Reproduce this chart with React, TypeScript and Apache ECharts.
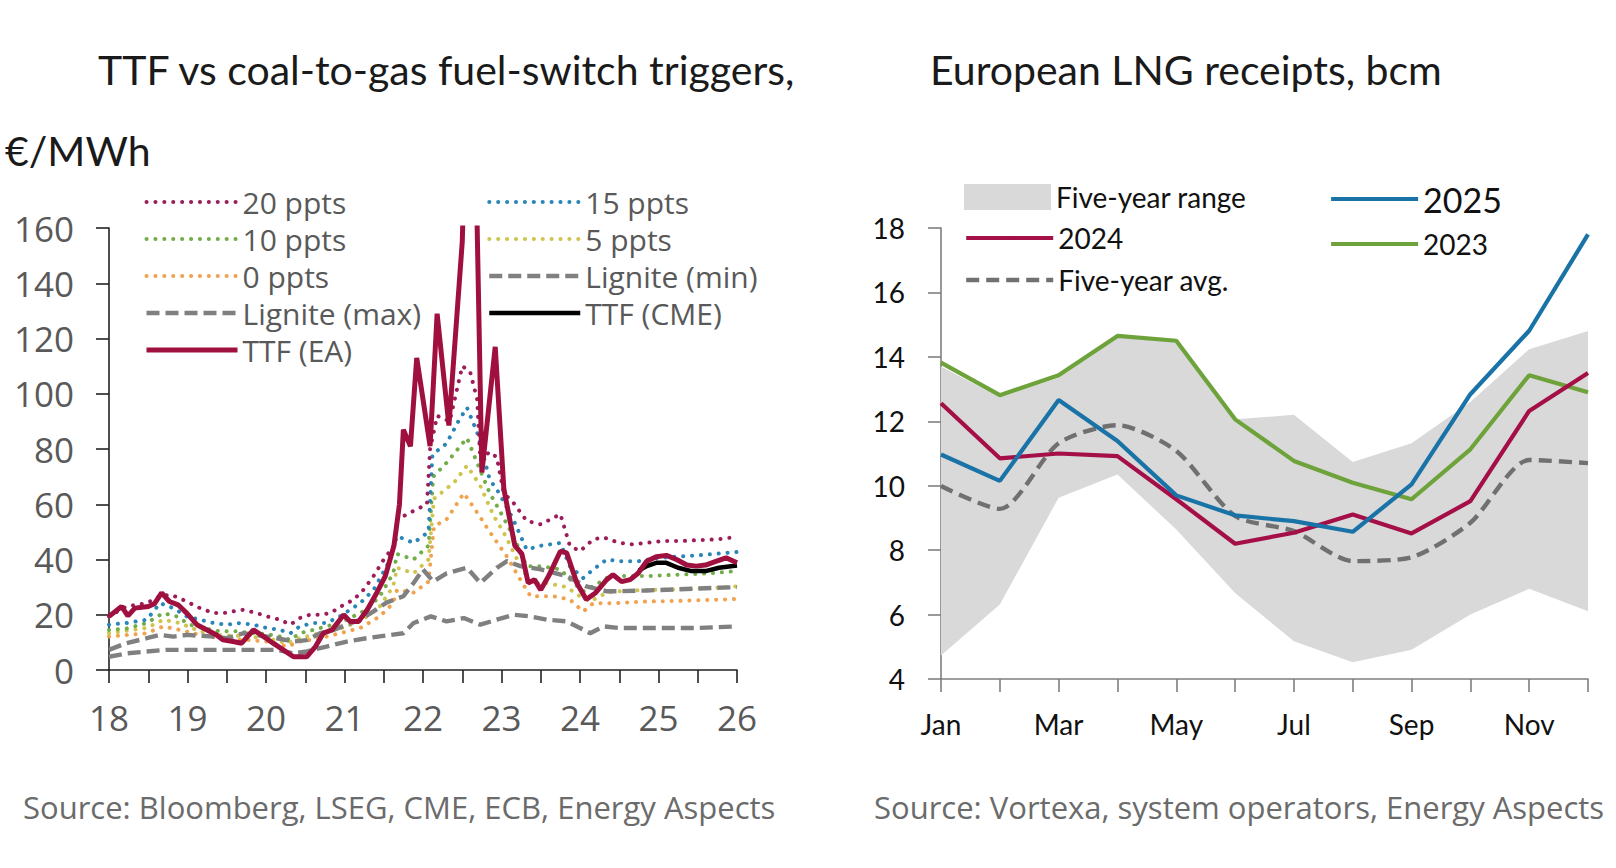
import React, { useEffect, useRef } from "react";
import * as echarts from "echarts";

type P = [number, number];

// ---------- Left chart: TTF vs coal-to-gas fuel-switch triggers (x = year 18..26) ----------
const ttfEA: P[] = [
  [18.0, 19.4], [18.16, 23], [18.24, 19.6], [18.33, 22.4], [18.5, 23], [18.58, 24], [18.67, 27.9],
  [18.77, 24.8], [18.88, 23.6], [18.99, 20.6], [19.12, 16.4], [19.25, 14.5], [19.37, 12.7],
  [19.45, 10.9], [19.58, 10.3], [19.69, 9.7], [19.84, 14.5], [19.97, 12.1], [20.09, 9.7],
  [20.22, 7.3], [20.35, 4.8], [20.52, 4.8], [20.63, 8.5], [20.73, 13.3], [20.84, 14.5],
  [20.99, 20], [21.07, 17.6], [21.18, 17.6], [21.29, 21.8], [21.41, 27.9], [21.52, 34],
  [21.63, 45], [21.7, 60], [21.75, 87], [21.84, 81], [21.92, 113], [22.09, 81], [22.18, 129],
  [22.33, 88.5], [22.5, 155], [22.58, 235], [22.67, 190], [22.75, 71.5], [22.92, 117],
  [23.03, 65.5], [23.17, 45], [23.26, 42], [23.34, 31.5], [23.42, 32.7], [23.5, 29], [23.6, 34],
  [23.75, 43], [23.83, 42.4], [23.96, 31.5], [24.08, 25.5], [24.2, 28], [24.34, 32.7],
  [24.42, 34.5], [24.53, 32], [24.64, 32.7], [24.74, 35], [24.85, 39.4], [24.97, 41],
  [25.1, 41.5], [25.23, 40], [25.36, 38], [25.48, 37.6], [25.6, 38], [25.74, 39.4],
  [25.86, 40.6], [26.0, 38.8],
];

const ttfCME: P[] = [
  [24.75, 36], [24.85, 37.6], [24.97, 38.8], [25.1, 38.8], [25.25, 37], [25.42, 35.8],
  [25.6, 35.8], [25.77, 37], [26.0, 37.8],
];

const ppts20: P[] = [
  [18.0, 19.4], [18.22, 23], [18.48, 24.2], [18.65, 26.7], [18.78, 27.3], [18.9, 26],
  [19.03, 24.2], [19.16, 22.4], [19.33, 20.6], [19.46, 20.6], [19.58, 21.2], [19.71, 21.8],
  [19.88, 20.6], [20.01, 19.4], [20.18, 18.2], [20.31, 16.4], [20.43, 18.8], [20.56, 20],
  [20.69, 20], [20.82, 20.6], [20.99, 23.6], [21.12, 25.5], [21.24, 29], [21.37, 34],
  [21.5, 40], [21.63, 45], [21.67, 54.5], [21.88, 57.6], [22.05, 60], [22.09, 80], [22.18, 92],
  [22.34, 90], [22.5, 110], [22.6, 108], [22.69, 98], [22.73, 76], [22.85, 79], [22.94, 77],
  [23.03, 64], [23.15, 60.6], [23.32, 54], [23.5, 52.7], [23.62, 54.5], [23.75, 56.4],
  [23.87, 45], [24.0, 43], [24.17, 47.3], [24.3, 48], [24.5, 46], [24.66, 45.5], [24.85, 46],
  [25.06, 46.7], [25.3, 46.7], [25.5, 47], [25.75, 47.3], [25.95, 48],
];

const ppts15: P[] = [
  [18.0, 16.4], [18.22, 17], [18.48, 18.2], [18.65, 24.2], [18.82, 22.4], [18.99, 19.4],
  [19.16, 18.2], [19.33, 17], [19.5, 16.4], [19.67, 17], [19.84, 16.4], [20.01, 15.2],
  [20.18, 14.5], [20.31, 13.3], [20.43, 15.8], [20.6, 17], [20.77, 17], [20.94, 19.4],
  [21.07, 21.8], [21.2, 24.2], [21.37, 29], [21.54, 37.6], [21.67, 48.5], [21.88, 46],
  [22.07, 50], [22.12, 78], [22.3, 82], [22.45, 90], [22.56, 95], [22.69, 86], [22.85, 69],
  [22.97, 64], [23.15, 54.5], [23.32, 43.6], [23.5, 45], [23.75, 46], [23.87, 37.6],
  [24.04, 33.3], [24.17, 36.4], [24.34, 40], [24.5, 39.4], [24.75, 39.4], [25.0, 40.6],
  [25.5, 41.5], [26.0, 42.7],
];

const ppts10: P[] = [
  [18.0, 14.5], [18.22, 15], [18.48, 17], [18.69, 20.6], [18.86, 19.4], [19.03, 16.4],
  [19.2, 15.2], [19.41, 14], [19.62, 14], [19.84, 13.3], [20.01, 13], [20.18, 12.1],
  [20.31, 10.9], [20.43, 13.3], [20.6, 14.5], [20.77, 15.8], [20.94, 17], [21.11, 19.4],
  [21.28, 21.8], [21.45, 26.7], [21.62, 35], [21.67, 42], [21.88, 40], [22.07, 45],
  [22.13, 70], [22.3, 75], [22.56, 84], [22.69, 75], [22.85, 64], [22.97, 58], [23.15, 48.5],
  [23.32, 37.6], [23.5, 37.6], [23.75, 36.4], [23.92, 31.5], [24.04, 28.5], [24.21, 31],
  [24.38, 34], [24.5, 34], [24.85, 34], [25.25, 34.5], [25.65, 35], [26.0, 35.8],
];

const ppts5: P[] = [
  [18.0, 13.3], [18.48, 15.2], [18.69, 18.2], [18.9, 17], [19.16, 14], [19.41, 12.7],
  [19.75, 12.2], [20.01, 11.5], [20.27, 9.7], [20.43, 11.5], [20.69, 13.3], [20.94, 15],
  [21.2, 17.6], [21.45, 23], [21.62, 30.3], [21.67, 37], [21.88, 35], [22.07, 40], [22.14, 62],
  [22.4, 68], [22.56, 74], [22.73, 66.7], [22.9, 55.8], [23.03, 49.7], [23.2, 40],
  [23.37, 31.5], [23.58, 31.5], [23.83, 30], [24.0, 26.7], [24.13, 24.8], [24.34, 28],
  [24.5, 28.5], [24.85, 29], [25.25, 29.2], [25.7, 29.7], [26.0, 30.3],
];

const ppts0: P[] = [
  [18.0, 12.1], [18.48, 13.3], [18.69, 15.8], [18.9, 14.5], [19.16, 12.7], [19.41, 11.5],
  [19.75, 10.9], [20.01, 10.3], [20.27, 8.5], [20.43, 10.3], [20.69, 11.5], [20.94, 13.3],
  [21.2, 15.2], [21.45, 19.4], [21.62, 24.2], [21.67, 29], [21.88, 28], [22.07, 32],
  [22.14, 52], [22.3, 54.5], [22.52, 64], [22.69, 57], [22.85, 50], [23.07, 41], [23.24, 32.7],
  [23.37, 26.7], [23.66, 26.7], [23.87, 25.5], [24.04, 21.2], [24.17, 24.2], [24.42, 24.2],
  [24.85, 24.8], [25.25, 25], [26.0, 25.7],
];

const ligniteMax: P[] = [
  [18.0, 7.3], [18.22, 9.7], [18.48, 11.5], [18.65, 12.7], [18.82, 12.1], [19.0, 12.7],
  [19.33, 12.1], [19.5, 11.5], [19.71, 13.3], [19.92, 12.5], [20.14, 11.5], [20.35, 10.3],
  [20.52, 10.8], [20.69, 13.3], [20.86, 14.5], [21.03, 16.4], [21.2, 18.2], [21.37, 21.2],
  [21.54, 24.5], [21.75, 26.7], [21.88, 31.5], [22.0, 36.4], [22.13, 32], [22.3, 35],
  [22.56, 37], [22.73, 31.5], [22.94, 37], [23.07, 39.4], [23.24, 37.6], [23.5, 36.4],
  [23.83, 34], [24.08, 30.3], [24.34, 28.5], [24.5, 28.5], [24.85, 28.8], [25.25, 29.2],
  [25.7, 29.7], [26.0, 30],
];

const ligniteMin: P[] = [
  [18.0, 4.8], [18.22, 6], [18.48, 6.7], [18.73, 7.3], [19.0, 7.3], [19.5, 7.3], [19.9, 7.3],
  [20.14, 7.3], [20.35, 6], [20.52, 6.7], [20.77, 8.5], [21.03, 10.3], [21.28, 11.5],
  [21.54, 12.5], [21.75, 13.3], [21.88, 17], [22.1, 19.4], [22.3, 17.6], [22.52, 18.8],
  [22.73, 16.4], [22.94, 18.2], [23.15, 20], [23.37, 19.4], [23.58, 18.2], [23.83, 17.6],
  [24.0, 15.2], [24.13, 13.3], [24.3, 15.8], [24.5, 15.2], [25.0, 15.2], [25.5, 15.2],
  [26.0, 15.8],
];

// ---------- Right chart: European LNG receipts, bcm ----------
const months = ["Jan", "Feb", "Mar", "Apr", "May", "Jun", "Jul", "Aug", "Sep", "Oct", "Nov", "Dec"];
const lng2025 = [10.97, 10.15, 12.66, 11.39, 9.7, 9.08, 8.9, 8.57, 10.04, 12.84, 14.81, 17.8];
const lng2024 = [12.56, 10.85, 11.0, 10.92, 9.58, 8.2, 8.54, 9.11, 8.52, 9.52, 12.32, 13.5];
const lng2023 = [13.82, 12.81, 13.43, 14.65, 14.5, 12.06, 10.77, 10.09, 9.58, 11.13, 13.43, 12.9];
const lngAvg = [9.99, 9.28, 11.32, 11.88, 11.08, 9.06, 8.59, 7.66, 7.78, 8.85, 10.8, 10.7];
const rangeLow = [4.73, 6.31, 9.63, 10.35, 8.64, 6.67, 5.17, 4.52, 4.91, 6.0, 6.8, 6.1];
const rangeHigh = [13.7, 12.75, 13.35, 14.6, 14.45, 12.06, 12.2, 10.74, 11.32, 12.6, 14.24, 14.8];

const FL = "'Open Sans', 'DejaVu Sans', sans-serif";
const FR = "Lato, 'Open Sans', sans-serif";
const GREY_TXT = "#595959";

const dotted = (color: string) => ({
  color,
  width: 4,
  type: [0.1, 8.8] as number[],
  cap: "round" as const,
});
const dashed = (color: string) => ({
  color,
  width: 4.4,
  type: [13, 6] as number[],
  cap: "butt" as const,
});

function leftLine(name: string, data: P[], lineStyle: any, z = 2) {
  return {
    type: "line",
    name,
    xAxisIndex: 0,
    yAxisIndex: 0,
    data,
    symbol: "none",
    lineStyle,
    itemStyle: { color: lineStyle.color },
    z,
  };
}

function rightLine(name: string, data: number[], lineStyle: any, smooth: boolean | number = false) {
  return {
    type: "line",
    name,
    xAxisIndex: 1,
    yAxisIndex: 1,
    data,
    symbol: "none",
    smooth,
    lineStyle,
    itemStyle: { color: lineStyle.color },
    z: 3,
  };
}

const titleStyle = { fontSize: 41, lineHeight: 48, fontWeight: "normal", color: "#1a1a1a", fontFamily: FR };
const sourceStyle = { fontSize: 31, lineHeight: 40, fontWeight: "normal", color: "#6b6b6b", fontFamily: FL };
const legendLine = { width: "inherit", type: "inherit", cap: "inherit" };

export default function App() {
  const ref = useRef<HTMLDivElement>(null);

  useEffect(() => {
    if (!ref.current) return;
    const chart = echarts.init(ref.current, undefined, { renderer: "svg" });

    const bandSize = rangeHigh.map((h, i) => +(h - rangeLow[i]).toFixed(2));

    const leftLegend = (left: number, data: string[]) => ({
      orient: "vertical",
      left,
      top: 187,
      padding: 0,
      itemWidth: 91,
      itemHeight: 2,
      itemGap: 7,
      selectedMode: false,
      lineStyle: legendLine,
      textStyle: { fontSize: 30, color: GREY_TXT, fontFamily: FL, lineHeight: 30 },
      data,
    });

    const option: any = {
      animation: false,
      backgroundColor: "#ffffff",
      title: [
        { text: "TTF vs coal-to-gas fuel-switch triggers,", left: 98, top: 45, padding: 0, textStyle: titleStyle },
        { text: "€/MWh", left: 5, top: 126, padding: 0, textStyle: titleStyle },
        { text: "European LNG receipts, bcm", left: 930, top: 45, padding: 0, textStyle: titleStyle },
        { text: "Source: Bloomberg, LSEG, CME, ECB, Energy Aspects", left: 23, top: 787, padding: 0, textStyle: sourceStyle },
        { text: "Source: Vortexa, system operators, Energy Aspects", left: 874, top: 787, padding: 0, textStyle: sourceStyle },
      ],
      legend: [
        leftLegend(144, ["20 ppts", "10 ppts", "0 ppts", "Lignite (max)", "TTF (EA)"]),
        leftLegend(487, ["15 ppts", "5 ppts", "Lignite (min)", "TTF (CME)"]),
        {
          orient: "vertical",
          left: 964,
          top: 183,
          padding: 0,
          itemWidth: 87,
          itemHeight: 26,
          selectedMode: false,
          textStyle: { fontSize: 28, color: "#111111", fontFamily: FR, lineHeight: 26 },
          data: [{ name: "Five-year range", icon: "rect", itemStyle: { color: "#d9d9d9" } }],
        },
        {
          orient: "vertical",
          left: 964,
          top: 224,
          padding: 0,
          itemWidth: 87,
          itemHeight: 2,
          itemGap: 14,
          selectedMode: false,
          lineStyle: legendLine,
          textStyle: { fontSize: 28, color: "#111111", fontFamily: FR, lineHeight: 28 },
          data: ["2024", "Five-year avg."],
        },
        {
          orient: "vertical",
          left: 1329,
          top: 182,
          padding: 0,
          itemWidth: 87,
          itemHeight: 2,
          itemGap: 14,
          selectedMode: false,
          lineStyle: legendLine,
          textStyle: {
            fontSize: 28,
            color: "#111111",
            fontFamily: FR,
            lineHeight: 28,
            rich: { big: { fontSize: 34, lineHeight: 28, color: "#111111", fontFamily: FR } },
          },
          formatter: (n: string) => (n === "2025" ? `{big|${n}}` : n),
          data: ["2025", "2023"],
        },
      ],
      grid: [
        { left: 109, top: 228, width: 628, height: 442 },
        { left: 941, top: 228, width: 647, height: 451 },
      ],
      xAxis: [
        {
          type: "value",
          gridIndex: 0,
          min: 18,
          max: 26,
          interval: 0.5,
          axisLine: { show: true, lineStyle: { color: "#222", width: 1.6 } },
          axisTick: { show: true, length: 13, lineStyle: { color: "#222", width: 1.6 } },
          axisLabel: {
            margin: 30,
            fontSize: 35,
            color: GREY_TXT,
            fontFamily: FL,
            formatter: (v: number) => (Math.abs(v - Math.round(v)) < 1e-6 ? String(Math.round(v)) : ""),
          },
          splitLine: { show: false },
        },
        {
          type: "category",
          gridIndex: 1,
          data: months,
          boundaryGap: false,
          axisLine: { show: true, lineStyle: { color: "#7f7f7f", width: 1.6 } },
          axisTick: { show: true, interval: 0, length: 13, lineStyle: { color: "#7f7f7f", width: 1.6 } },
          axisLabel: { interval: 1, margin: 31, fontSize: 28, color: "#111111", fontFamily: FR },
          splitLine: { show: false },
        },
      ],
      yAxis: [
        {
          type: "value",
          gridIndex: 0,
          min: 0,
          max: 160,
          interval: 20,
          axisLine: { show: true, lineStyle: { color: "#222", width: 1.6 } },
          axisTick: { show: true, length: 13, lineStyle: { color: "#222", width: 1.6 } },
          axisLabel: { margin: 35, fontSize: 35, color: GREY_TXT, fontFamily: FL },
          splitLine: { show: false },
        },
        {
          type: "value",
          gridIndex: 1,
          min: 4,
          max: 18,
          interval: 2,
          axisLine: { show: true, lineStyle: { color: "#7f7f7f", width: 1.6 } },
          axisTick: { show: true, length: 13, lineStyle: { color: "#7f7f7f", width: 1.6 } },
          axisLabel: { margin: 36, fontSize: 28, color: "#111111", fontFamily: FR },
          splitLine: { show: false },
        },
      ],
      series: [
        leftLine("0 ppts", ppts0, dotted("#f0a24e")),
        leftLine("5 ppts", ppts5, dotted("#cfc54e")),
        leftLine("10 ppts", ppts10, dotted("#72ad4a")),
        leftLine("15 ppts", ppts15, dotted("#2a86b8")),
        leftLine("20 ppts", ppts20, dotted("#9c1d5a")),
        leftLine("Lignite (min)", ligniteMin, dashed("#808080")),
        leftLine("Lignite (max)", ligniteMax, dashed("#808080")),
        leftLine("TTF (CME)", ttfCME, { color: "#000000", width: 4.5 }, 4),
        leftLine("TTF (EA)", ttfEA, { color: "#a0103f", width: 5 }, 5),
        {
          type: "line",
          name: "rangeBase",
          xAxisIndex: 1,
          yAxisIndex: 1,
          data: rangeLow,
          stack: "range",
          symbol: "none",
          lineStyle: { width: 0, opacity: 0 },
          silent: true,
          z: 1,
        },
        {
          type: "line",
          name: "Five-year range",
          xAxisIndex: 1,
          yAxisIndex: 1,
          data: bandSize,
          stack: "range",
          symbol: "none",
          lineStyle: { width: 0, opacity: 0, color: "#d9d9d9" },
          itemStyle: { color: "#d9d9d9" },
          areaStyle: { color: "#d9d9d9", opacity: 1 },
          silent: true,
          z: 1,
        },
        rightLine("Five-year avg.", lngAvg, { color: "#707070", width: 4.4, type: [13, 7], cap: "butt" }, 0.25),
        rightLine("2023", lng2023, { color: "#6ea23a", width: 4.2 }),
        rightLine("2024", lng2024, { color: "#a50f48", width: 4.2 }),
        rightLine("2025", lng2025, { color: "#1a73a6", width: 4.2 }),
      ],
    };

    chart.setOption(option);
    return () => chart.dispose();
  }, []);

  return (
    <div
      ref={ref}
      style={{ position: "fixed", left: 0, top: 0, width: 1616, height: 868, background: "#fff" }}
    />
  );
}
